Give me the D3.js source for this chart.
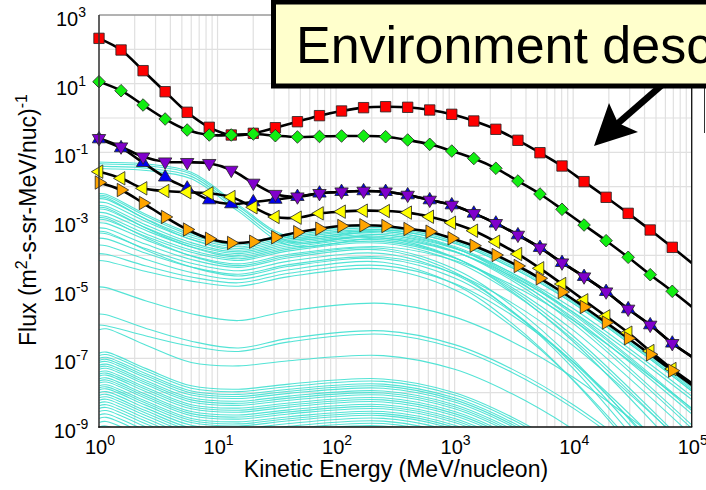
<!DOCTYPE html>
<html>
<head>
<meta charset="utf-8">
<script src="https://cdn.jsdelivr.net/npm/d3@7"></script>
<style>
  html, body { margin: 0; padding: 0; background: #fff; overflow: hidden; }
  svg { display: block; font-family: "Liberation Sans", Arial, Helvetica, sans-serif; }
</style>
</head>
<body>
<svg id="chart" width="706" height="490"></svg>
<script>
// ---------------------------------------------------------------
// Data
// ---------------------------------------------------------------

// Kinetic energy grid (MeV/nucleon) of the highlighted spectra; the last
// entry only extends the curve to the axis edge (no marker there).
const energy = [1, 1.535, 2.355, 3.614, 5.546, 8.511, 13.06, 20.04, 30.76, 47.21,
  72.44, 111.2, 170.6, 261.8, 401.8, 616.6, 946.2, 1452, 2228, 3420,
  5248, 8054, 12359, 18967, 29107, 44668, 68549, 100000];

// Flux (m^2-s-sr-MeV/nuc)^-1 of the highlighted spectra
const fluxRed = [209, 95.7, 23.9, 5.83, 1.47, 0.536, 0.320, 0.358, 0.521, 0.780,
  1.17, 1.60, 2.00, 2.13, 2.05, 1.71, 1.28, 0.818, 0.469, 0.224,
  0.0975, 0.040, 0.0140, 0.0049, 0.00167, 5.47e-4, 1.71e-4, 5.97e-5];
const fluxGreen = [11.4, 6.24, 2.39, 0.935, 0.447, 0.320, 0.320, 0.342, 0.305, 0.280,
  0.290, 0.299, 0.299, 0.285, 0.229, 0.171, 0.109, 0.0661, 0.0343, 0.0146,
  0.00611, 0.00219, 7.64e-4, 2.67e-4, 8.77e-5, 2.73e-5, 8.95e-6, 3.19e-6];
const fluxBlue = [0.244, 0.134, 0.0499, 0.0188, 0.00895, 0.00409, 0.00313, 0.00357, 0.00423, 0.00511,
  0.00641, 0.00713, 0.00748, 0.00713, 0.00571, 0.00409, 0.00292, 0.00167, 8.57e-4, 3.91e-4,
  1.67e-4, 6.10e-5, 2.39e-5, 8.73e-6, 2.74e-6, 9.35e-7, 2.74e-7, 1.12e-7];
const fluxPurple = [0.256, 0.146, 0.0746, 0.0533, 0.0513, 0.048, 0.0305, 0.0128, 0.00604, 0.00511,
  0.00641, 0.00713, 0.00748, 0.00713, 0.00571, 0.00409, 0.00292, 0.00167, 8.57e-4, 3.91e-4,
  1.67e-4, 6.10e-5, 2.39e-5, 8.73e-6, 2.74e-6, 9.35e-7, 2.74e-7, 1.12e-7];
const fluxYellow = [0.0273, 0.01754, 0.00895, 0.00748, 0.00686, 0.00641, 0.0050, 0.00251, 0.00131, 0.00125,
  0.00167, 0.00187, 0.0020, 0.00195, 0.00175, 0.00133, 8.91e-4, 5.21e-4, 2.49e-4, 1.09e-4,
  4.19e-5, 1.46e-5, 4.9e-6, 1.67e-6, 5.58e-7, 1.63e-7, 4.89e-8, 1.91e-8];
const fluxOrange = [0.0132, 0.0080, 0.00334, 0.00131, 5.65e-4, 3.03e-4, 2.29e-4, 2.49e-4, 3.35e-4, 4.72e-4,
  5.97e-4, 7.15e-4, 7.50e-4, 7.15e-4, 5.85e-4, 4.88e-4, 3.13e-4, 1.91e-4, 1.02e-4, 4.89e-5,
  2.14e-5, 8.55e-6, 3.13e-6, 1.10e-6, 3.83e-7, 1.31e-7, 4.37e-8, 1.67e-8];

// Background ion spectra: energies and log10(flux) per ion
const cyanEnergy = [1, 1.15, 2.5, 6, 15, 40, 250, 1000, 3000, 10000, 100000];
const cyanLogFlux = [
  [-1.28,-1.29,-1.34,-1.58,-2.53,-3.45,-3.25,-3.65,-4.35,-5.4,-7.95],
  [-1.33,-1.34,-1.39,-1.63,-2.58,-3.5,-3.3,-3.74,-4.51,-5.67,-8.47],
  [-1.40,-1.41,-1.46,-1.70,-2.65,-3.6,-3.4,-3.88,-4.72,-5.98,-9.04],
  [-1.47,-1.48,-1.53,-1.77,-2.72,-3.7,-3.5,-3.9,-4.6,-5.65,-8.2],
  [-2.2,-2.22,-2.81,-3.36,-3.65,-3.37,-3.15,-3.55,-4.25,-5.3,-7.85],
  [-2.25,-2.27,-2.86,-3.41,-3.7,-3.42,-3.2,-3.6,-4.3,-5.35,-7.9],
  [-2.3,-2.32,-2.95,-3.54,-3.85,-3.57,-3.35,-3.79,-4.56,-5.72,-8.52],
  [-2.35,-2.37,-2.94,-3.47,-3.75,-3.47,-3.25,-3.65,-4.35,-5.4,-7.95],
  [-2.45,-2.47,-3.02,-3.53,-3.8,-3.52,-3.3,-3.78,-4.62,-5.88,-8.94],
  [-2.55,-2.57,-3.12,-3.63,-3.9,-3.62,-3.4,-3.8,-4.5,-5.55,-8.1],
  [-2.6,-2.62,-3.21,-3.76,-4.05,-3.77,-3.55,-4.07,-4.98,-6.35,-9.66],
  [-2.65,-2.67,-3.2,-3.69,-3.95,-3.67,-3.45,-3.89,-4.66,-5.82,-8.62],
  [-2.75,-2.77,-3.28,-3.75,-4.0,-3.72,-3.5,-4.06,-5.04,-6.51,-10.08],
  [-2.85,-2.87,-3.38,-3.85,-4.1,-3.82,-3.6,-4.08,-4.92,-6.18,-9.24],
  [-2.9,-2.92,-3.49,-4.02,-4.3,-4.02,-3.8,-4.4,-5.45,-7.03,-10.85],
  [-2.95,-2.97,-3.45,-3.91,-4.15,-3.87,-3.65,-4.17,-5.08,-6.45,-9.76],
  [-3.05,-3.07,-3.55,-4.01,-4.25,-3.97,-3.75,-4.15,-4.85,-5.9,-8.45],
  [-3.2,-3.22,-3.68,-4.12,-4.35,-4.07,-3.85,-4.49,-5.61,-7.29,-11.37],
  [-3.3,-3.32,-3.85,-4.34,-4.6,-4.32,-4.1,-4.66,-5.64,-7.11,-10.68],
  [-3.35,-3.37,-3.81,-4.23,-4.45,-4.17,-3.95,-4.55,-5.6,-7.18,-11.0],
  [-3.5,-3.52,-3.94,-4.34,-4.55,-4.27,-4.05,-4.53,-5.37,-6.63,-9.69],
  [-3.7,-3.72,-4.12,-4.5,-4.7,-4.42,-4.2,-4.84,-5.96,-7.64,-11.72],
  [-3.95,-3.97,-4.31,-4.63,-4.8,-4.52,-4.3,-4.82,-5.73,-7.1,-10.41],
  [-4.15,-4.17,-4.47,-4.75,-4.9,-4.62,-4.4,-5.0,-6.05,-7.63,-11.45],
  [-4.92,-4.94,-5.33,-5.7,-5.9,-5.62,-5.4,-5.8,-6.5,-7.55,-10.1],
  [-5.71,-5.73,-6.13,-6.5,-6.7,-6.42,-6.2,-6.6,-7.3,-8.35,-10.9],
  [-6.03,-6.05,-6.35,-6.65,-6.8,-6.52,-6.3,-6.7,-7.4,-8.45,-11.0],
  [-6.17,-6.14,-6.62,-7.12,-7.22,-7.07,-6.92,-7.32,-8.02,-9.07,-11.62],
  [-6.85,-6.82,-7.3,-7.8,-7.9,-7.75,-7.6,-8.0,-8.7,-9.75,-12.3],
  [-6.92,-6.89,-7.37,-7.87,-7.97,-7.82,-7.67,-8.07,-8.77,-9.82,-12.37],
  [-7.0,-6.97,-7.45,-7.95,-8.05,-7.9,-7.75,-8.15,-8.85,-9.9,-12.45],
  [-7.06,-7.03,-7.51,-8.01,-8.11,-7.96,-7.81,-8.21,-8.91,-9.96,-12.51],
  [-7.12,-7.09,-7.57,-8.07,-8.17,-8.02,-7.87,-8.27,-8.97,-10.02,-12.57],
  [-7.2,-7.17,-7.65,-8.15,-8.25,-8.1,-7.95,-8.35,-9.05,-10.1,-12.65],
  [-7.26,-7.23,-7.71,-8.21,-8.31,-8.16,-8.01,-8.41,-9.11,-10.16,-12.71],
  [-7.32,-7.29,-7.77,-8.27,-8.37,-8.22,-8.07,-8.47,-9.17,-10.22,-12.77],
  [-7.4,-7.37,-7.85,-8.35,-8.45,-8.3,-8.15,-8.55,-9.25,-10.3,-12.85],
  [-7.46,-7.43,-7.91,-8.41,-8.51,-8.36,-8.21,-8.61,-9.31,-10.36,-12.91],
  [-7.52,-7.49,-7.97,-8.47,-8.57,-8.42,-8.27,-8.67,-9.37,-10.42,-12.97],
  [-7.6,-7.57,-8.05,-8.55,-8.65,-8.5,-8.35,-8.75,-9.45,-10.5,-13.05],
  [-7.66,-7.63,-8.11,-8.61,-8.71,-8.56,-8.41,-8.81,-9.51,-10.56,-13.11],
  [-7.72,-7.69,-8.17,-8.67,-8.77,-8.62,-8.47,-8.87,-9.57,-10.62,-13.17],
  [-7.8,-7.77,-8.25,-8.75,-8.85,-8.7,-8.55,-8.95,-9.65,-10.7,-13.25],
  [-7.86,-7.83,-8.31,-8.81,-8.91,-8.76,-8.61,-9.01,-9.71,-10.76,-13.31],
  [-7.92,-7.89,-8.37,-8.87,-8.97,-8.82,-8.67,-9.07,-9.77,-10.82,-13.37],
  [-8.0,-7.97,-8.45,-8.95,-9.05,-8.9,-8.75,-9.15,-9.85,-10.9,-13.45],
  [-8.08,-8.05,-8.53,-9.03,-9.13,-8.98,-8.83,-9.23,-9.93,-10.98,-13.53],
  [-8.15,-8.12,-8.6,-9.1,-9.2,-9.05,-8.9,-9.3,-10.0,-11.05,-13.6],
  [-8.22,-8.19,-8.67,-9.17,-9.27,-9.12,-8.97,-9.37,-10.07,-11.12,-13.67],
  [-8.3,-8.27,-8.75,-9.25,-9.35,-9.2,-9.05,-9.45,-10.15,-11.2,-13.75],
  [-8.38,-8.35,-8.83,-9.33,-9.43,-9.28,-9.13,-9.53,-10.23,-11.28,-13.83],
  [-8.46,-8.43,-8.91,-9.41,-9.51,-9.36,-9.21,-9.61,-10.31,-11.36,-13.91],
  [-8.55,-8.52,-9.0,-9.5,-9.6,-9.45,-9.3,-9.7,-10.4,-11.45,-14.0],
  [-8.65,-8.62,-9.1,-9.6,-9.7,-9.55,-9.4,-9.8,-10.5,-11.55,-14.1],
  [-8.75,-8.72,-9.2,-9.7,-9.8,-9.65,-9.5,-9.9,-10.6,-11.65,-14.2],
  [-8.87,-8.84,-9.32,-9.82,-9.92,-9.77,-9.62,-10.02,-10.72,-11.77,-14.32],
  [-9.0,-8.97,-9.45,-9.95,-10.05,-9.9,-9.75,-10.15,-10.85,-11.9,-14.45]
];

// Axis tick labels (powers of ten)
const xTickExponents = [0, 1, 2, 3, 4, 5];
const yTickExponents = [3, 1, -1, -3, -5, -7, -9];
const yGridExponents = [3, 2, 1, 0, -1, -2, -3, -4, -5, -6, -7, -8, -9];

const xTitle = "Kinetic Energy (MeV/nucleon)";
const calloutText = "Environment description";

// ---------------------------------------------------------------
// Layout
// ---------------------------------------------------------------
const svg = d3.select("#chart");
const plotL = 99, plotR = 691.7, plotT = 15, plotB = 427;

const x = d3.scaleLog().domain([1, 1e5]).range([plotL, plotR]);
const y = d3.scaleLog().domain([1e-9, 1e3]).range([plotB, plotT]);

svg.append("defs").append("clipPath").attr("id", "plotClip")
  .append("rect").attr("x", plotL).attr("y", plotT)
  .attr("width", plotR - plotL).attr("height", plotB - plotT);

// Grid
const grid = svg.append("g").attr("stroke", "#e0e0e0").attr("stroke-width", 1.2);
grid.selectAll("line.v").data(x.ticks()).join("line").attr("class", "v")
  .attr("x1", d => x(d)).attr("x2", d => x(d)).attr("y1", plotT).attr("y2", plotB);
grid.selectAll("line.h").data(yGridExponents).join("line").attr("class", "h")
  .attr("x1", plotL).attr("x2", plotR)
  .attr("y1", d => y(Math.pow(10, d))).attr("y2", d => y(Math.pow(10, d)));

// Background ion spectra
const plot = svg.append("g").attr("clip-path", "url(#plotClip)");
const cyanLine = d3.line()
  .x((v, i) => x(cyanEnergy[i]))
  .y(v => y(Math.pow(10, v)))
  .curve(d3.curveCatmullRom.alpha(0.5));
plot.append("g").selectAll("path").data(cyanLogFlux).join("path")
  .attr("d", cyanLine).attr("fill", "none")
  .attr("stroke", "#40e0d0").attr("stroke-width", 1.1).attr("stroke-opacity", 0.9);

// Marker shapes
const tri = "M0,-7.6L6.7,3.8L-6.7,3.8Z";
const markerPath = {
  square: "M-5.2,-5.2H5.2V5.2H-5.2Z",
  diamond: "M0,-6.3L6.3,0L0,6.3L-6.3,0Z",
  up: tri, down: tri, left: tri, right: tri
};
const markerRotate = { square: 0, diamond: 0, up: 0, down: 180, left: -90, right: 90 };

const series = [
  { flux: fluxRed, color: "#ff0000", marker: "square" },
  { flux: fluxGreen, color: "#11ee11", marker: "diamond" },
  { flux: fluxBlue, color: "#0000ee", marker: "up" },
  { flux: fluxPurple, color: "#8000cc", marker: "down" },
  { flux: fluxYellow, color: "#ffff00", marker: "left" },
  { flux: fluxOrange, color: "#ffa500", marker: "right" }
];

const seriesLine = d3.line()
  .x((v, i) => x(energy[i]))
  .y(v => y(v))
  .curve(d3.curveCatmullRom.alpha(0.5));

const markerLayer = svg.append("g");
series.forEach(s => {
  plot.append("path").datum(s.flux).attr("d", seriesLine)
    .attr("fill", "none").attr("stroke", "#000").attr("stroke-width", 2.6);
  markerLayer.append("g").selectAll("path")
    .data(s.flux.slice(0, energy.length - 1)).join("path")
    .attr("d", markerPath[s.marker])
    .attr("transform", (v, i) => `translate(${x(energy[i])},${y(v)}) rotate(${markerRotate[s.marker]})`)
    .attr("fill", s.color).attr("stroke", "#222").attr("stroke-width", 0.8);
});
markerLayer.raise();

// Frame
svg.append("line").attr("x1", plotL).attr("x2", plotR).attr("y1", plotT).attr("y2", plotT)
  .attr("stroke", "#777").attr("stroke-width", 1);
svg.append("line").attr("x1", plotR).attr("x2", plotR).attr("y1", plotT).attr("y2", plotB)
  .attr("stroke", "#111").attr("stroke-width", 1.3);
svg.append("line").attr("x1", plotL).attr("x2", plotL).attr("y1", plotT).attr("y2", plotB + 0.7)
  .attr("stroke", "#333").attr("stroke-width", 1.5);
svg.append("line").attr("x1", plotL - 0.7).attr("x2", plotR + 0.6).attr("y1", plotB).attr("y2", plotB)
  .attr("stroke", "#111").attr("stroke-width", 1.5);

// Tick labels
function powerLabel(sel, exp) {
  sel.append("tspan").text("10");
  sel.append("tspan").attr("font-size", 14).attr("dy", -9).text(String(exp));
}
svg.append("g").selectAll("text").data(xTickExponents).join("text")
  .attr("x", d => x(Math.pow(10, d)) + 1).attr("y", 454)
  .attr("text-anchor", "middle").attr("font-size", 20).attr("fill", "#000")
  .each(function (d) { powerLabel(d3.select(this), d); });
svg.append("g").selectAll("text").data(yTickExponents).join("text")
  .attr("x", 71).attr("y", d => y(Math.pow(10, d)) + 11)
  .attr("text-anchor", "middle").attr("font-size", 20).attr("fill", "#000")
  .each(function (d) { powerLabel(d3.select(this), d); });

// Axis titles
svg.append("text").attr("x", 396).attr("y", 477).attr("text-anchor", "middle")
  .attr("font-size", 23).attr("fill", "#000").text(xTitle);
const yTitle = svg.append("text").attr("transform", "translate(36,220) rotate(-90)")
  .attr("text-anchor", "middle").attr("font-size", 23).attr("fill", "#000");
yTitle.append("tspan").text("Flux (m");
yTitle.append("tspan").attr("font-size", 16).attr("dy", -9).text("2");
yTitle.append("tspan").attr("dy", 9).text("-s-sr-MeV/nuc)");
yTitle.append("tspan").attr("font-size", 16).attr("dy", -9).text("-1");

// Callout
svg.append("line").attr("x1", 704.5).attr("x2", 704.5).attr("y1", 86).attr("y2", 133)
  .attr("stroke", "#333").attr("stroke-width", 1);
svg.append("line").attr("x1", 616).attr("y1", 125).attr("x2", 670).attr("y2", 78)
  .attr("stroke", "#000").attr("stroke-width", 6.5);
svg.append("path").attr("d", "M594,146L609,103L618,123L638,132Z").attr("fill", "#000");
svg.append("rect").attr("x", 273.5).attr("y", 2).attr("width", 600).attr("height", 84)
  .attr("fill", "#ffffcc").attr("stroke", "#000").attr("stroke-width", 5);
svg.append("text").attr("x", 296).attr("y", 63).attr("font-size", 52).attr("fill", "#000")
  .text(calloutText);
</script>
</body>
</html>
